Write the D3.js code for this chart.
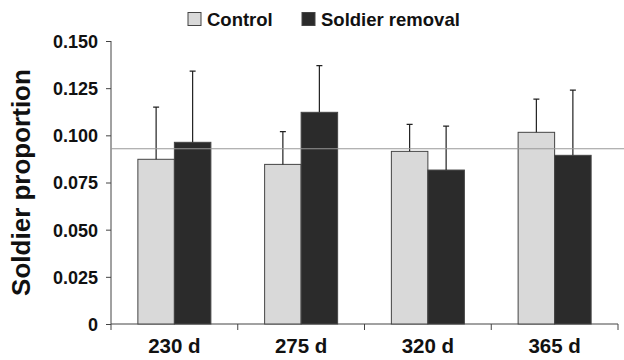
<!DOCTYPE html>
<html>
<head>
<meta charset="utf-8">
<script src="https://cdn.jsdelivr.net/npm/d3@7"></script>
<style>
  body { margin: 0; background: #fff; }
  text { font-family: "Liberation Sans", Arial, sans-serif; font-weight: bold; }
</style>
</head>
<body>
<div id="chart"></div>
<script>
var categories = ["230 d", "275 d", "320 d", "365 d"];
var seriesNames = ["Control", "Soldier removal"];
var controlValues = [0.0873, 0.0846, 0.0915, 0.1016];
var controlErrors = [0.0277, 0.0174, 0.0143, 0.0176];
var removalValues = [0.0963, 0.1122, 0.0816, 0.0894];
var removalErrors = [0.0377, 0.0248, 0.0233, 0.0346];
var yTicks = [0, 0.025, 0.05, 0.075, 0.1, 0.125, 0.15];
var referenceValue = 0.0929;

var colors = ["#d9d9d9", "#2b2b2b"];
var width = 624, height = 360;
var margin = {top: 41, right: 6, bottom: 36, left: 111};

var svg = d3.select("#chart")
    .append("svg")
    .attr("width", width)
    .attr("height", height);

var x = d3.scaleBand()
    .domain(categories)
    .range([margin.left, width - margin.right]);

var x1 = d3.scaleBand()
    .domain(seriesNames)
    .range([0, x.bandwidth() * 0.576])
    .paddingInner(0);

var y = d3.scaleLinear()
    .domain([0, 0.15])
    .range([height - margin.bottom, margin.top]);

var data = categories.map(function(c, i) {
    return [
        {cat: c, name: seriesNames[0], v: controlValues[i], e: controlErrors[i]},
        {cat: c, name: seriesNames[1], v: removalValues[i], e: removalErrors[i]}
    ];
});

// y axis
var yAxis = d3.axisLeft(y)
    .tickValues(yTicks)
    .tickSize(5)
    .tickFormat(function(d) { return d === 0 ? "0" : d3.format(".3f")(d); });

var gy = svg.append("g")
    .attr("transform", "translate(" + margin.left + ",0)")
    .call(yAxis);
gy.select(".domain").attr("stroke", "#444").attr("d", "M0," + y(0.15) + "V" + (y(0) + 6));
gy.selectAll(".tick line").attr("stroke", "#444");
gy.selectAll(".tick text")
    .attr("x", -13)
    .attr("dy", "0.36em")
    .attr("fill", "#111")
    .style("font-size", "18px");

// x axis
var xAxis = d3.axisBottom(x).tickSize(0).tickPadding(14);
var gx = svg.append("g")
    .attr("transform", "translate(0," + y(0) + ")")
    .call(xAxis);
gx.select(".domain").attr("stroke", "#444").attr("d", "M" + margin.left + ",0H" + (width - margin.right));
gx.selectAll(".tick text")
    .attr("y", 29)
    .attr("dy", 0)
    .attr("fill", "#111")
    .style("font-size", "20.5px");
gx.selectAll(".sep")
    .data(categories)
    .enter()
    .append("line")
    .attr("x1", function(d) { return x(d) + x.bandwidth(); })
    .attr("x2", function(d) { return x(d) + x.bandwidth(); })
    .attr("y1", 0)
    .attr("y2", 6)
    .attr("stroke", "#444");

// bars
var groupOffset = (x.bandwidth() - x1.range()[1]) / 2;
var group = svg.selectAll(".group")
    .data(data)
    .enter()
    .append("g")
    .attr("transform", function(d, i) { return "translate(" + (x(categories[i]) + groupOffset) + ",0)"; });

group.selectAll("rect")
    .data(function(d) { return d; })
    .enter()
    .append("rect")
    .attr("x", function(d) { return x1(d.name); })
    .attr("y", function(d) { return y(d.v); })
    .attr("width", x1.bandwidth())
    .attr("height", function(d) { return y(0) - y(d.v); })
    .attr("fill", function(d, i) { return colors[i]; })
    .attr("stroke", "#444")
    .attr("stroke-width", 1);

// error bars
group.selectAll(".err")
    .data(function(d) { return d; })
    .enter()
    .append("path")
    .attr("d", function(d) {
        var cx = x1(d.name) + x1.bandwidth() / 2;
        return "M" + cx + "," + y(d.v) + "V" + y(d.v + d.e) +
            "M" + (cx - 3) + "," + y(d.v + d.e) + "H" + (cx + 3);
    })
    .attr("stroke", "#222")
    .attr("stroke-width", 1.2)
    .attr("fill", "none");

// reference line
svg.append("line")
    .attr("x1", margin.left)
    .attr("x2", width)
    .attr("y1", y(referenceValue))
    .attr("y2", y(referenceValue))
    .attr("stroke", "#999")
    .attr("stroke-width", 1.2);

// y title
svg.append("text")
    .attr("transform", "translate(30," + ((y(0) + y(0.15)) / 2) + ") rotate(-90)")
    .attr("text-anchor", "middle")
    .attr("fill", "#111")
    .style("font-size", "26px")
    .text("Soldier proportion");

// legend
var legendX = [188, 302];
var legend = svg.selectAll(".legend")
    .data(seriesNames)
    .enter()
    .append("g")
    .attr("transform", function(d, i) { return "translate(" + legendX[i] + ",12.5)"; });
legend.append("rect")
    .attr("width", 13)
    .attr("height", 13)
    .attr("fill", function(d, i) { return colors[i]; })
    .attr("stroke", "#444");
legend.append("text")
    .attr("x", 19)
    .attr("y", 13.3)
    .attr("fill", "#111")
    .style("font-size", "18.5px")
    .text(function(d) { return d; });
</script>
</body>
</html>
